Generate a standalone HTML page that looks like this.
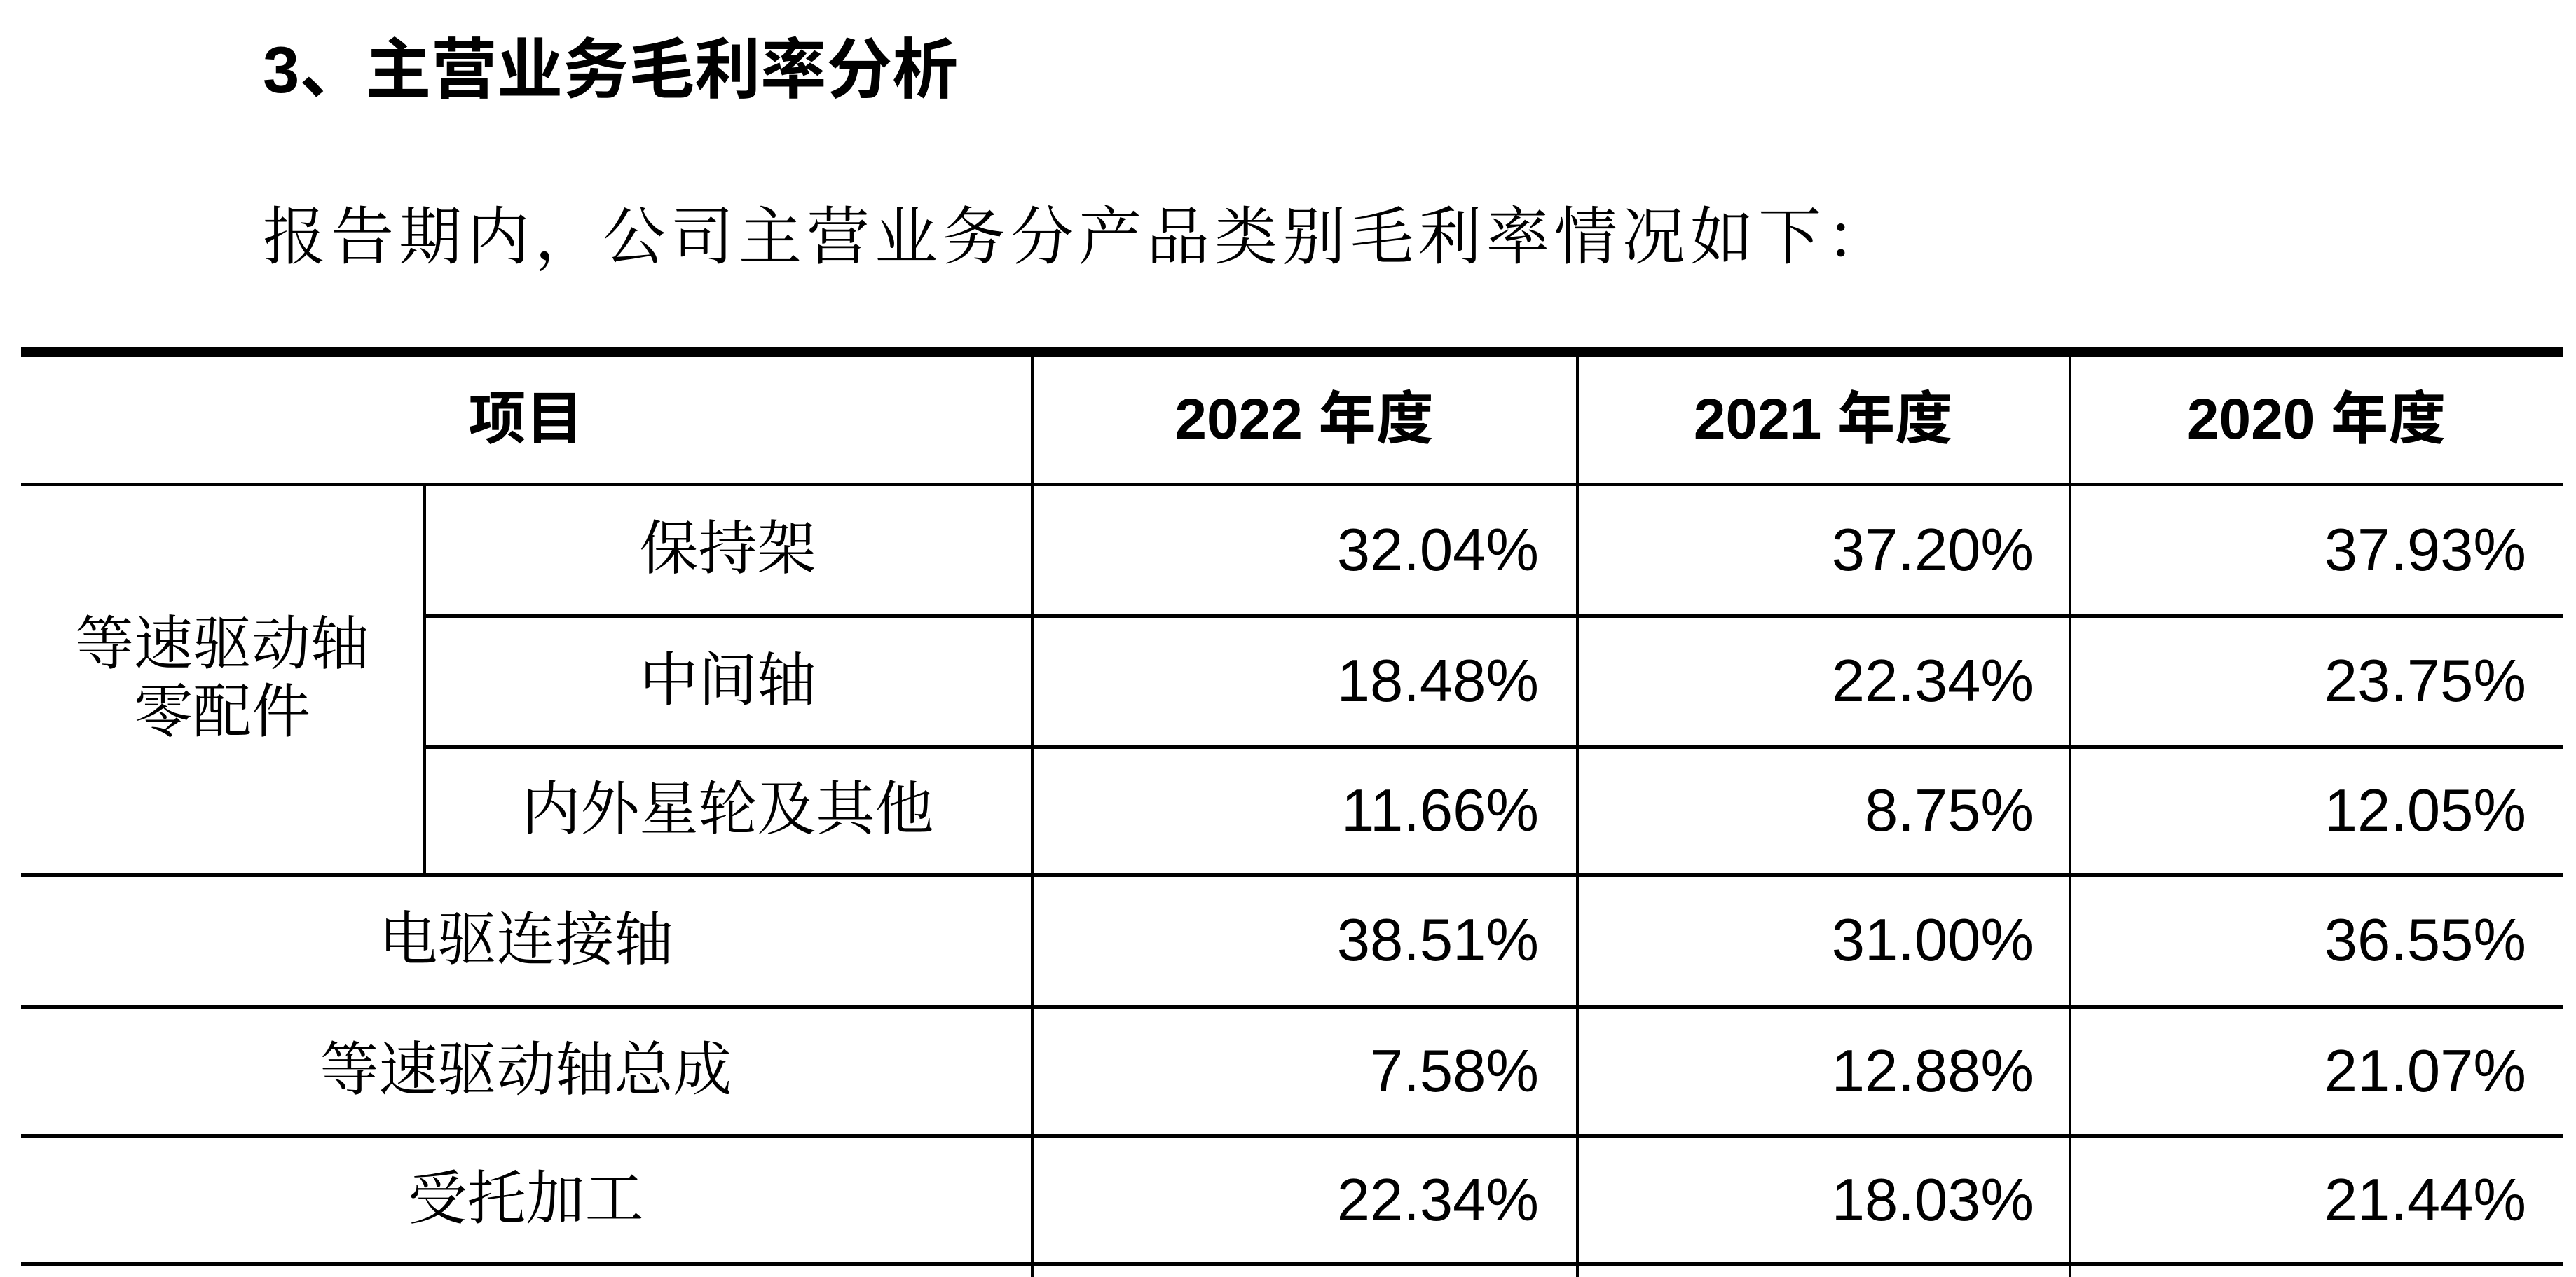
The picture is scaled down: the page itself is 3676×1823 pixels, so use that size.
<!DOCTYPE html>
<html><head><meta charset="utf-8"><style>
body{margin:0;width:3676px;height:1823px;background:#fff;overflow:hidden;position:relative;font-family:"Liberation Sans","Noto Sans CJK SC",sans-serif;color:#000}
.a{position:absolute}
.h{position:absolute;background:#000;height:6px}
.v{position:absolute;background:#000;width:4px}
.c{position:absolute;display:flex;align-items:center;justify-content:center;font-size:82px;line-height:1.15;text-align:center}
.s{font-family:"Liberation Serif","Noto Serif CJK SC",serif;font-size:84px}
.r{position:absolute;display:flex;align-items:center;justify-content:flex-end;font-size:85px}
.b{font-weight:bold}
</style></head><body>
<div class="a b" style="left:375px;top:45px;font-size:94px;line-height:110px">3、主营业务毛利率分析</div>
<div class="a" style="left:375px;top:285px;font-size:90px;line-height:110px;letter-spacing:7px;font-family:'Liberation Serif','Noto Serif CJK SC',serif">报告期内，公司主营业务分产品类别毛利率情况如下：</div>

<div>
<div class="h" style="left:30px;width:3627px;top:496px;height:14px"></div>
<div class="h" style="left:30px;width:3627px;top:689px;height:5px"></div>
<div class="h" style="left:605px;width:3052px;top:877px;height:5px"></div>
<div class="h" style="left:605px;width:3052px;top:1064px;height:5px"></div>
<div class="h" style="left:30px;width:3627px;top:1246px"></div>
<div class="h" style="left:30px;width:3627px;top:1434px"></div>
<div class="h" style="left:30px;width:3627px;top:1619px"></div>
<div class="h" style="left:30px;width:3627px;top:1802px"></div>
<div class="v" style="left:604px;top:691px;height:558px"></div>
<div class="v" style="left:1471px;top:508px;height:1315px"></div>
<div class="v" style="left:2249px;top:508px;height:1315px"></div>
<div class="v" style="left:2952px;top:508px;height:1315px"></div>

<div class="c b" style="left:30px;width:1441px;top:508px;height:183px">项目</div>
<div class="c b" style="left:1473px;width:776px;top:508px;height:183px">2022 年度</div>
<div class="c b" style="left:2251px;width:701px;top:508px;height:183px">2021 年度</div>
<div class="c b" style="left:2954px;width:703px;top:508px;height:183px">2020 年度</div>

<div class="c s" style="left:30px;width:574px;top:694px;height:552px">等速驱动轴<br>零配件</div>
<div class="c s" style="left:606px;width:865px;top:694px;height:183px">保持架</div>
<div class="c s" style="left:606px;width:865px;top:882px;height:182px">中间轴</div>
<div class="c s" style="left:606px;width:865px;top:1069px;height:177px">内外星轮及其他</div>
<div class="c s" style="left:30px;width:1441px;top:1252px;height:182px">电驱连接轴</div>
<div class="c s" style="left:30px;width:1441px;top:1440px;height:179px">等速驱动轴总成</div>
<div class="c s" style="left:30px;width:1441px;top:1625px;height:177px">受托加工</div>

<div class="r" style="left:1473px;width:723px;top:694px;height:183px">32.04%</div>
<div class="r" style="left:2251px;width:651px;top:694px;height:183px">37.20%</div>
<div class="r" style="left:2954px;width:651px;top:694px;height:183px">37.93%</div>
<div class="r" style="left:1473px;width:723px;top:882px;height:182px">18.48%</div>
<div class="r" style="left:2251px;width:651px;top:882px;height:182px">22.34%</div>
<div class="r" style="left:2954px;width:651px;top:882px;height:182px">23.75%</div>
<div class="r" style="left:1473px;width:723px;top:1069px;height:177px">11.66%</div>
<div class="r" style="left:2251px;width:651px;top:1069px;height:177px">8.75%</div>
<div class="r" style="left:2954px;width:651px;top:1069px;height:177px">12.05%</div>
<div class="r" style="left:1473px;width:723px;top:1252px;height:182px">38.51%</div>
<div class="r" style="left:2251px;width:651px;top:1252px;height:182px">31.00%</div>
<div class="r" style="left:2954px;width:651px;top:1252px;height:182px">36.55%</div>
<div class="r" style="left:1473px;width:723px;top:1440px;height:179px">7.58%</div>
<div class="r" style="left:2251px;width:651px;top:1440px;height:179px">12.88%</div>
<div class="r" style="left:2954px;width:651px;top:1440px;height:179px">21.07%</div>
<div class="r" style="left:1473px;width:723px;top:1625px;height:177px">22.34%</div>
<div class="r" style="left:2251px;width:651px;top:1625px;height:177px">18.03%</div>
<div class="r" style="left:2954px;width:651px;top:1625px;height:177px">21.44%</div>
</div>
</body></html>
